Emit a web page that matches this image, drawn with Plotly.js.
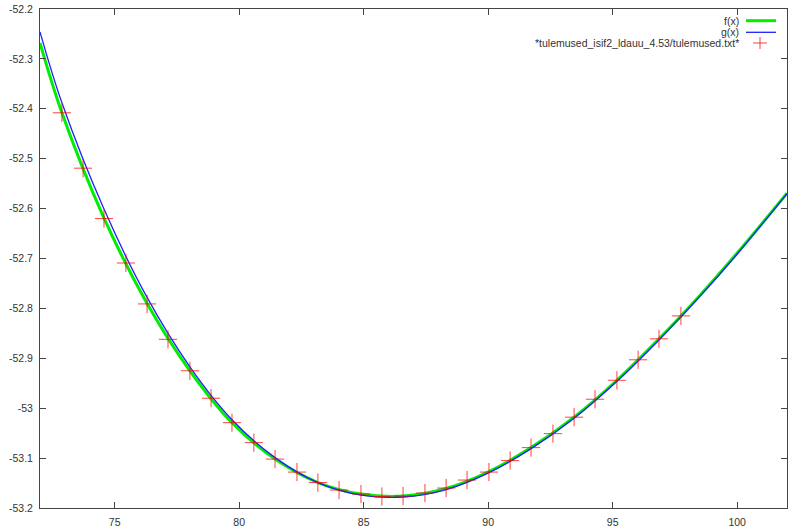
<!DOCTYPE html>
<html>
<head>
<meta charset="utf-8">
<script src="https://cdn.plot.ly/plotly-3.0.1.min.js"></script>
<style>html,body{margin:0;padding:0;background:#fff;}#chart{width:800px;height:531px;}</style>
</head>
<body>
<div id="chart"></div>
<script>
var dataX = [72.88, 73.73, 74.57, 75.45, 76.30, 77.14, 78.02, 78.87, 79.71, 80.59,
             81.44, 82.32, 83.16, 84.01, 84.89, 85.73, 86.58, 87.46, 88.31, 89.15,
             90.03, 90.88, 91.72, 92.60, 93.45, 94.29, 95.17, 96.02, 96.86, 97.74];
var dataY = [-52.408, -52.519, -52.620, -52.709, -52.791, -52.862, -52.925, -52.980, -53.029, -53.069,
             -53.102, -53.128, -53.149, -53.164, -53.172, -53.177, -53.176, -53.170, -53.160, -53.144,
             -53.128, -53.105, -53.079, -53.051, -53.018, -52.982, -52.944, -52.903, -52.861, -52.815];

// f(x)
var fX = [72, 72.88, 74.57, 76.30, 78.02, 79.71, 81.44, 83.16, 84.89, 86.58, 88.31, 90.03, 91.72, 93.45, 95.17, 96.86, 98.5, 100, 102];
var fY = [-52.268, -52.408, -52.619, -52.790, -52.925, -53.029, -53.102, -53.149, -53.172, -53.176, -53.161, -53.127, -53.079, -53.018, -52.944, -52.861, -52.774, -52.689, -52.569];

// g(x)
var gX = [72, 72.88, 74.57, 76.30, 78.02, 79.71, 81.44, 83.16, 84.89, 86.58, 88.31, 90.03, 91.72, 93.45, 95.17, 96.86, 98.5, 100, 102];
var gY = [-52.246, -52.388, -52.601, -52.778, -52.917, -53.023, -53.099, -53.149, -53.174, -53.178, -53.163, -53.129, -53.081, -53.020, -52.946, -52.863, -52.776, -52.691, -52.570];

var xTickVals = [75, 80, 85, 90, 95, 100];
var xTickText = ['75', '80', '85', '90', '95', '100'];
var yTickVals = [-52.2, -52.3, -52.4, -52.5, -52.6, -52.7, -52.8, -52.9, -53.0, -53.1, -53.2];
var yTickText = ['-52.2', '-52.3', '-52.4', '-52.5', '-52.6', '-52.7', '-52.8', '-52.9', '-53', '-53.1', '-53.2'];

var legendNames = ['f(x)', 'g(x)', '*tulemused_isif2_ldauu_4.53/tulemused.txt*'];

var traces = [
  {x: fX, y: fY, type: 'scatter', mode: 'lines', name: legendNames[0],
   line: {color: '#00ee00', width: 3, shape: 'spline', smoothing: 1}},
  {x: gX, y: gY, type: 'scatter', mode: 'lines', name: legendNames[1],
   line: {color: '#2020ff', width: 1.3, shape: 'spline', smoothing: 1}},
  {x: dataX, y: dataY, type: 'scatter', mode: 'markers', name: legendNames[2],
   marker: {symbol: 'cross-thin', size: 13, line: {color: 'rgba(255,0,0,0.75)', width: 1}}}
];

// plot-area pixel helpers for legend placement (paper coords)
var L = 40, R = 787, T = 9, B = 508;
function px(x) { return (x - L) / (R - L); }
function py(y) { return (B - y) / (B - T); }

var font = {family: 'Liberation Sans, Arial, sans-serif', size: 10.5, color: '#333'};
var legY = [20.7, 32.3, 43];
var annotations = legendNames.map(function (t, i) {
  return {xref: 'paper', yref: 'paper', x: px(741), y: py(legY[i]), text: t,
          showarrow: false, xanchor: 'right', yanchor: 'middle', font: font};
});
var shapes = [
  {type: 'line', xref: 'paper', yref: 'paper', x0: px(746), x1: px(776), y0: py(legY[0]), y1: py(legY[0]), line: {color: '#00ee00', width: 3}},
  {type: 'line', xref: 'paper', yref: 'paper', x0: px(746), x1: px(776), y0: py(legY[1]), y1: py(legY[1]), line: {color: '#2020ff', width: 1.3}},
  {type: 'line', xref: 'paper', yref: 'paper', x0: px(753), x1: px(767), y0: py(legY[2]), y1: py(legY[2]), line: {color: 'rgba(255,0,0,0.75)', width: 1}},
  {type: 'line', xref: 'paper', yref: 'paper', x0: px(760), x1: px(760), y0: py(legY[2] - 6), y1: py(legY[2] + 6), line: {color: 'rgba(255,0,0,0.75)', width: 1}}
];

var axisCommon = {
  showgrid: false, zeroline: false, showline: true, linecolor: '#444', linewidth: 1,
  mirror: 'allticks', ticks: 'inside', ticklen: 6, tickcolor: '#444', tickwidth: 1,
  tickfont: font, tickmode: 'array'
};

var layout = {
  width: 800, height: 531,
  margin: {l: L, r: 800 - R, t: T, b: 531 - B},
  paper_bgcolor: '#fff', plot_bgcolor: '#fff',
  showlegend: false,
  xaxis: Object.assign({}, axisCommon, {range: [72, 102], tickvals: xTickVals, ticktext: xTickText, ticklabelstandoff: 4}),
  yaxis: Object.assign({}, axisCommon, {range: [-53.2, -52.2], tickvals: yTickVals, ticktext: yTickText, ticklabelstandoff: 4}),
  annotations: annotations,
  shapes: shapes
};

Plotly.newPlot('chart', traces, layout, {displayModeBar: false, staticPlot: true});
</script>
</body>
</html>
